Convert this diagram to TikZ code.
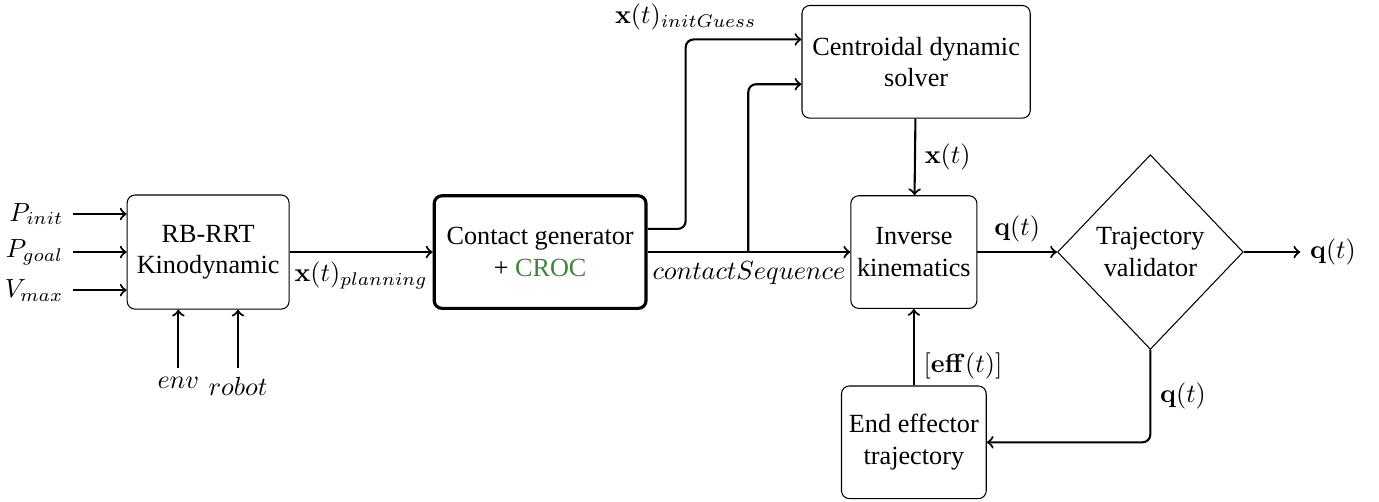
\documentclass[tikz,border=0pt]{standalone}
\usepackage{amsmath}
\usepackage{amssymb}
\usepackage[no-math]{fontspec}
\setmainfont{Liberation Serif}
\usepackage{tikz}
\usetikzlibrary{shapes.geometric}
\definecolor{crocgreen}{RGB}{60,135,55}

\begin{document}
\begin{tikzpicture}[
    block/.style={draw, rounded corners=3pt, align=center, minimum height=1.51cm, inner sep=2pt},
    flow/.style={->, thick, rounded corners=3pt}]
\useasboundingbox (0,0) rectangle (18.485,6.729);

\node[block, minimum width=2.17cm, minimum height=1.53cm] (rbrrt) at (2.79,3.35) {RB-RRT\\Kinodynamic};
\node[block, very thick, minimum width=2.84cm] (contact) at (7.24,3.35) {Contact generator\\+ \textcolor{crocgreen}{CROC}};
\node[block, minimum width=3.06cm] (centroidal) at (12.28,5.90) {Centroidal dynamic\\solver};
\node[block, minimum width=1.69cm] (ik) at (12.25,3.35) {Inverse\\kinematics};
\node[block, minimum width=1.94cm] (eff) at (12.25,0.80) {End effector\\trajectory};
\node[draw, diamond, align=center, inner sep=1pt, minimum width=2.49cm, minimum height=2.61cm] (valid) at (15.42,3.35) {Trajectory\\validator};

\coordinate (pinit) at (0.98,3.86);
\coordinate (pgoal) at (0.98,3.35);
\coordinate (vmax) at (0.98,2.84);
\coordinate (envin) at (2.39,1.80);
\coordinate (robotin) at (3.19,1.80);
\coordinate (seqsplit) at (10.03,3.35);
\coordinate (qout) at (17.43,3.35);

\draw[flow] (pinit) node[left] {$P_{init}$} -- (pinit -| rbrrt.west);
\draw[flow] (pgoal) node[left] {$P_{goal}$} -- (rbrrt.west);
\draw[flow] (vmax) node[left] {$V_{max}$} -- (vmax -| rbrrt.west);
\draw[flow] (envin) node[below] {$env$} -- (envin |- rbrrt.south);
\draw[flow] (robotin) node[below] {$robot$} -- (robotin |- rbrrt.south);

\draw[flow] (rbrrt) -- (contact) node[midway, below] {$\mathbf{x}(t)_{planning}$};
\draw[flow] (contact) -- (ik) node[midway, below] {$contactSequence$};
\draw[flow] ([yshift=0.31cm]contact.east) -- ++(0.51,0) |- ([yshift=0.3cm]centroidal.west) node[pos=0.5, above] {$\mathbf{x}(t)_{initGuess}$};
\draw[flow] (seqsplit) |- ([yshift=-0.3cm]centroidal.west);
\draw[flow] (centroidal) -- (ik) node[midway, right] {$\mathbf{x}(t)$};
\draw[flow] (ik) -- (valid) node[midway, above] {$\mathbf{q}(t)$};
\draw[flow] (valid) -- (qout) node[right] {$\mathbf{q}(t)$};
\draw[flow] (valid.south) |- (eff.east) node[pos=0.25, right] {$\mathbf{q}(t)$};
\draw[flow] (eff) -- (ik) node[pos=0.25, right] {$[\mathbf{eff}(t)]$};
\end{tikzpicture}
\end{document}
